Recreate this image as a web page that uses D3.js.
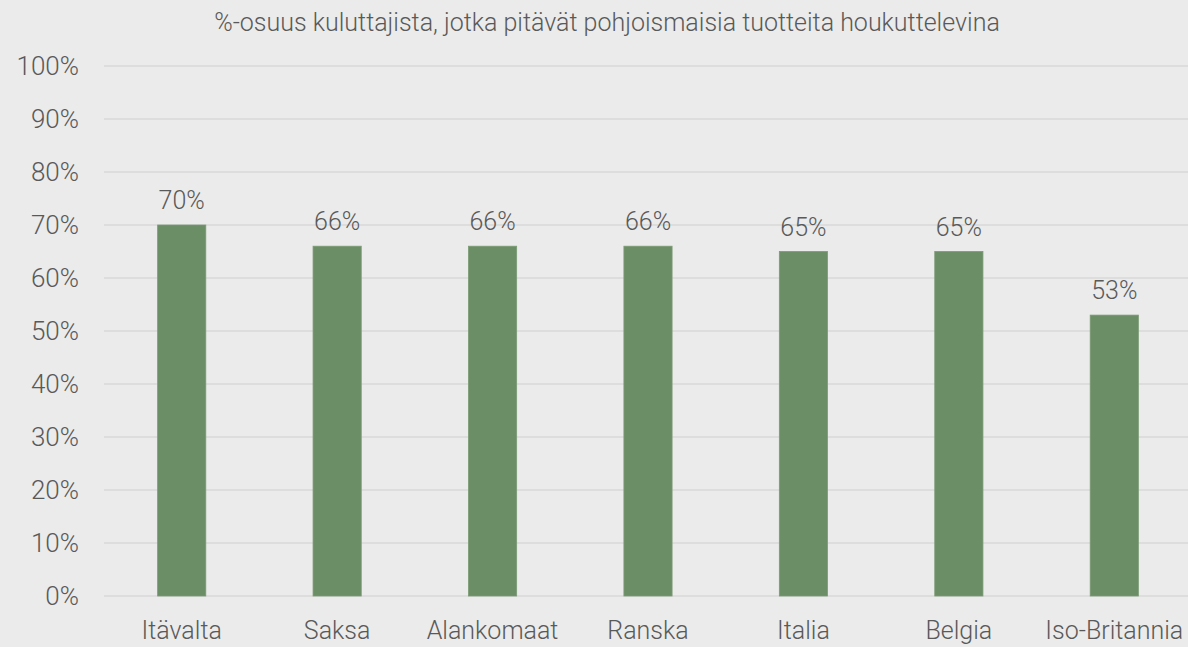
<!DOCTYPE html>
<html>
<head>
<meta charset="utf-8">
<script src="https://cdn.jsdelivr.net/npm/d3@7"></script>
<style>
  body { margin: 0; background: #ebebeb; }
  text { font-family: Roboto, "Open Sans", sans-serif; font-weight: 300; fill: #595959; }
</style>
</head>
<body>
<div id="chart"></div>
<script>
// Share of consumers finding Nordic products attractive

const title = "%-osuus kuluttajista, jotka pitävät pohjoismaisia tuotteita houkuttelevina";
const countries = ["Itävalta", "Saksa", "Alankomaat", "Ranska", "Italia", "Belgia", "Iso-Britannia"];
const shares = [70, 66, 66, 66, 65, 65, 53];
const yTicks = [0, 10, 20, 30, 40, 50, 60, 70, 80, 90, 100];

const W = 1188, H = 647;
const margin = {top: 66, right: -4, bottom: 51, left: 104};
const width = W - margin.left - margin.right;
const height = H - margin.top - margin.bottom;

const data = countries.map((c, i) => ({country: c, value: shares[i]}));

const svg = d3.select("#chart")
    .append("svg")
    .attr("width", W)
    .attr("height", H)
    .style("display", "block");

svg.append("rect")
    .attr("width", W)
    .attr("height", H)
    .attr("fill", "#ebebeb");

const g = svg.append("g")
    .attr("transform", `translate(${margin.left},${margin.top})`);

const x = d3.scaleBand()
    .domain(countries)
    .range([0, width])
    .paddingInner(0.69)
    .paddingOuter(0.345);

const y = d3.scaleLinear()
    .domain([0, 100])
    .range([height, 0]);

// gridlines
g.selectAll(".grid")
    .data(yTicks)
    .enter()
    .append("line")
    .attr("x1", 0)
    .attr("x2", width)
    .attr("y1", d => y(d))
    .attr("y2", d => y(d))
    .attr("stroke", "#d9d9d9")
    .attr("stroke-width", 1.3);

// y axis labels
const yAxis = g.append("g")
    .call(d3.axisLeft(y).tickValues(yTicks).tickFormat(d => d + "%").tickSize(0).tickPadding(25));
yAxis.select(".domain").remove();
yAxis.selectAll("text")
    .style("font-size", "26px")
    .style("font-weight", 300)
    .style("font-family", "Roboto, sans-serif")
    .style("fill", "#595959");

// x axis labels
const xAxis = g.append("g")
    .attr("transform", `translate(0,${height})`)
    .call(d3.axisBottom(x).tickSize(0).tickPadding(25));
xAxis.select(".domain").remove();
xAxis.selectAll("text")
    .style("font-size", "25px")
    .style("font-weight", 300)
    .style("font-family", "Roboto, sans-serif")
    .style("fill", "#595959");

// bars
g.selectAll(".bar")
    .data(data)
    .enter()
    .append("rect")
    .attr("class", "bar")
    .attr("x", d => x(d.country))
    .attr("y", d => y(d.value))
    .attr("width", x.bandwidth())
    .attr("height", d => y(0) - y(d.value))
    .attr("fill", "#6b8e66")
    .attr("stroke", "#7c9b76")
    .attr("stroke-width", 0.8);

// value labels
g.selectAll(".label")
    .data(data)
    .enter()
    .append("text")
    .attr("class", "label")
    .attr("x", d => x(d.country) + x.bandwidth() / 2)
    .attr("y", d => y(d.value) - 16)
    .attr("text-anchor", "middle")
    .style("font-size", "25px")
    .text(d => d.value + "%");

// title
svg.append("text")
    .attr("x", 607)
    .attr("y", 31)
    .attr("text-anchor", "middle")
    .style("font-size", "25px")
    .text(title);
</script>
</body>
</html>
